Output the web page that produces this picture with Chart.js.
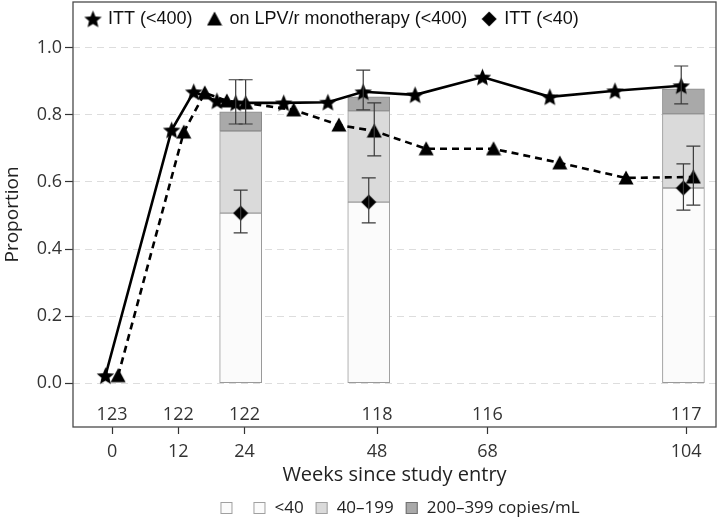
<!DOCTYPE html>
<html>
<head>
<meta charset="utf-8">
<script src="https://cdn.jsdelivr.net/npm/chart.js@4.4.0/dist/chart.umd.min.js"></script>
<style>
  html, body { margin: 0; padding: 0; background: #fff; }
  #wrap { width: 720px; height: 520px; }
</style>
</head>
<body>
<div id="wrap"><canvas id="chart" width="720" height="520"></canvas></div>
<script>
// --- Data ---
// ITT (<400): proportion with VL < 400 copies/mL (stars, solid line)
const ittWeeks = [-1.2, 10.8, 14.8, 19.0, 22.4, 31.1, 39.1, 45.5, 54.9, 67.1, 79.3, 91.1, 103.1];
const ittBelow400 = [0.022, 0.755, 0.869, 0.842, 0.836, 0.836, 0.838, 0.869, 0.860, 0.913, 0.854, 0.872, 0.887];

// on LPV/r monotherapy (<400) (triangles, dashed line)
const lpvWeeks = [1.1, 13.0, 16.8, 20.8, 24.2, 32.9, 41.1, 47.5, 56.9, 69.1, 81.1, 93.1, 105.3];
const lpvBelow400 = [0.022, 0.749, 0.866, 0.842, 0.836, 0.815, 0.770, 0.752, 0.699, 0.699, 0.657, 0.612, 0.615];

// ITT (<40) (diamonds)
const ittLowWeeks = [23.3, 46.5, 103.5];
const ittBelow40 = [0.507, 0.540, 0.582];

// 95% CI bars
const ittCiWeeks = [22.4, 45.5, 103.1];
const ittCiLow = [0.773, 0.815, 0.833];
const ittCiHigh = [0.905, 0.934, 0.946];
const lpvCiWeeks = [24.2, 47.5, 105.3];
const lpvCiLow = [0.773, 0.678, 0.531];
const lpvCiHigh = [0.905, 0.836, 0.707];
const lowCiLow = [0.448, 0.478, 0.516];
const lowCiHigh = [0.576, 0.612, 0.654];

// stacked bars: cumulative tops of each VL band
const barWeeks = [23.3, 46.5, 103.5];
const bandUnder40 = [0.507, 0.540, 0.582];
const bandUnder200 = [0.752, 0.812, 0.803];
const bandUnder400 = [0.809, 0.854, 0.878];

// numbers at risk
const countWeeks = [0, 12, 24, 48, 68, 104];
const counts = [123, 122, 122, 118, 116, 117];

const xTicks = [0, 12, 24, 48, 68, 104];
const yTicks = [0, 0.2, 0.4, 0.6, 0.8, 1.0];

const barLegend = ['', '<40', '40–199', '200–399 copies/mL'];
const barFills = ['#fbfbfb', '#fbfbfb', '#dadada', '#a9a9a9'];

// --- Marker images ---
function makeMarker(kind, size) {
  const c = document.createElement('canvas');
  c.width = size; c.height = size;
  const g = c.getContext('2d');
  const m = size / 2;
  g.fillStyle = '#000';
  g.beginPath();
  if (kind === 'star') {
    for (let i = 0; i < 10; i++) {
      const r = i % 2 === 0 ? m - 0.3 : (m - 0.3) * 0.45;
      const a = -Math.PI / 2 + i * Math.PI / 5;
      g.lineTo(m + r * Math.cos(a), m + 0.8 + r * Math.sin(a));
    }
  } else if (kind === 'triangle') {
    g.moveTo(m, 0.5);
    g.lineTo(size - 0.5, size - 1.5);
    g.lineTo(0.5, size - 1.5);
  } else {
    g.moveTo(m, 0.5);
    g.lineTo(size - 0.5, m);
    g.lineTo(m, size - 0.5);
    g.lineTo(0.5, m);
  }
  g.closePath();
  g.fill();
  return c;
}
const starImg = makeMarker('star', 19);
const triImg = makeMarker('triangle', 16);
const diaImg = makeMarker('diamond', 16);

const toPoints = (xs, ys) => xs.map((x, i) => ({ x: x, y: ys[i] }));
const toFloat = (xs, lo, hi) => xs.map((x, i) => ({ x: x, y: [lo ? lo[i] : 0, hi[i]] }));

// --- Plugins ---
const framePlugin = {
  id: 'frame',
  afterDraw(chart) {
    const { ctx, chartArea: a } = chart;
    ctx.save();
    ctx.strokeStyle = '#4a4a4a';
    ctx.lineWidth = 1.3;
    ctx.strokeRect(a.left, a.top, a.right - a.left, a.bottom - a.top);
    ctx.restore();
  }
};

const errorBarPlugin = {
  id: 'errorBars',
  afterDatasetsDraw(chart) {
    const { ctx, scales: { x, y } } = chart;
    const groups = [
      [ittCiWeeks, ittCiLow, ittCiHigh],
      [lpvCiWeeks, lpvCiLow, lpvCiHigh],
      [ittLowWeeks, lowCiLow, lowCiHigh]
    ];
    ctx.save();
    ctx.strokeStyle = '#3a3a3a';
    ctx.lineWidth = 1.2;
    groups.forEach(([ws, lo, hi]) => {
      ws.forEach((w, i) => {
        const px = x.getPixelForValue(w);
        const p1 = y.getPixelForValue(lo[i]);
        const p2 = y.getPixelForValue(hi[i]);
        ctx.beginPath();
        ctx.moveTo(px, p1); ctx.lineTo(px, p2);
        ctx.moveTo(px - 7, p1); ctx.lineTo(px + 7, p1);
        ctx.moveTo(px - 7, p2); ctx.lineTo(px + 7, p2);
        ctx.stroke();
      });
    });
    ctx.restore();
  }
};

const countsPlugin = {
  id: 'counts',
  afterDraw(chart) {
    const { ctx, chartArea: a, scales: { x } } = chart;
    ctx.save();
    ctx.fillStyle = '#333';
    ctx.font = '18px "Open Sans"';
    ctx.textAlign = 'center';
    ctx.textBaseline = 'middle';
    countWeeks.forEach((w, i) => {
      ctx.fillText(String(counts[i]), x.getPixelForValue(w), a.bottom - 12);
    });
    ctx.restore();
  }
};

// legend inside the plot, top left
const topLegendPlugin = {
  id: 'topLegend',
  afterDraw(chart) {
    const { ctx, chartArea: a } = chart;
    const items = [[starImg, 'ITT (<400)'], [triImg, 'on LPV/r monotherapy (<400)'], [diaImg, 'ITT (<40)']];
    ctx.save();
    ctx.font = '18px "Liberation Sans"';
    ctx.fillStyle = '#111';
    ctx.textBaseline = 'middle';
    let cx = a.left + 20;
    const cy = a.top + 17;
    items.forEach(([img, label]) => {
      ctx.drawImage(img, cx - img.width / 2, cy - img.height / 2);
      ctx.fillText(label, cx + 15, cy);
      cx += 15 + ctx.measureText(label).width + 22;
    });
    ctx.restore();
  }
};

// legend for the stacked bars, below the axis title
const bottomLegendPlugin = {
  id: 'bottomLegend',
  afterDraw(chart) {
    const { ctx } = chart;
    ctx.save();
    ctx.font = '17px "Open Sans"';
    ctx.textBaseline = 'middle';
    const box = 12, gapText = 9, gapItem = 12;
    let total = 0;
    barLegend.forEach(t => { total += box + gapText + ctx.measureText(t).width + gapItem; });
    total -= gapItem;
    let px = 400 - total / 2;
    const cy = 508;
    barLegend.forEach((t, i) => {
      ctx.fillStyle = barFills[i];
      ctx.fillRect(px, cy - box / 2, box, box);
      ctx.strokeStyle = i === 3 ? '#707070' : '#a0a0a0';
      ctx.lineWidth = 1;
      ctx.strokeRect(px + 0.5, cy - box / 2 + 0.5, box - 1, box - 1);
      ctx.fillStyle = '#222';
      ctx.fillText(t, px + box + gapText, cy);
      px += box + gapText + ctx.measureText(t).width + gapItem;
    });
    ctx.restore();
  }
};

// --- Chart ---
const ctx = document.getElementById('chart');

new Chart(ctx, {
  type: 'line',
  data: {
    datasets: [
      {
        type: 'line',
        label: 'ITT (<400)',
        data: toPoints(ittWeeks, ittBelow400),
        borderColor: '#000',
        borderWidth: 2.6,
        pointStyle: starImg,
        pointRadius: 9,
        tension: 0,
        order: 1
      },
      {
        type: 'line',
        label: 'on LPV/r monotherapy (<400)',
        data: toPoints(lpvWeeks, lpvBelow400),
        borderColor: '#000',
        borderWidth: 2.6,
        borderDash: [7, 5],
        pointStyle: triImg,
        pointRadius: 8,
        tension: 0,
        order: 2
      },
      {
        type: 'line',
        label: 'ITT (<40)',
        data: toPoints(ittLowWeeks, ittBelow40),
        showLine: false,
        pointStyle: diaImg,
        pointRadius: 8,
        order: 0
      },
      {
        type: 'bar',
        label: '<40',
        data: toFloat(barWeeks, null, bandUnder40),
        backgroundColor: barFills[1],
        borderColor: '#9a9a9a',
        borderWidth: 1,
        borderSkipped: false,
        barThickness: 42,
        grouped: false,
        order: 5
      },
      {
        type: 'bar',
        label: '40–199',
        data: toFloat(barWeeks, bandUnder40, bandUnder200),
        backgroundColor: barFills[2],
        borderColor: '#9a9a9a',
        borderWidth: 1,
        borderSkipped: false,
        barThickness: 42,
        grouped: false,
        order: 5
      },
      {
        type: 'bar',
        label: '200–399 copies/mL',
        data: toFloat(barWeeks, bandUnder200, bandUnder400),
        backgroundColor: barFills[3],
        borderColor: '#8a8a8a',
        borderWidth: 1,
        borderSkipped: false,
        barThickness: 42,
        grouped: false,
        order: 5
      }
    ]
  },
  options: {
    responsive: false,
    animation: false,
    layout: { autoPadding: false, padding: { top: 2, right: 4, bottom: 30, left: 0 } },
    plugins: {
      legend: { display: false },
      tooltip: { enabled: false }
    },
    scales: {
      x: {
        type: 'linear',
        min: -7.07,
        max: 109.4,
        offset: false,
        afterBuildTicks: (scale) => { scale.ticks = xTicks.map(v => ({ value: v })); },
        afterFit: (scale) => { scale.height = 63; scale.paddingLeft = 0; scale.paddingRight = 0; },
        grid: { offset: false, drawOnChartArea: false, drawTicks: true, tickLength: 7, tickColor: '#333', tickWidth: 1.2 },
        border: { display: false },
        ticks: {
          color: '#333',
          font: { family: 'Open Sans', size: 18 },
          padding: 7,
          maxRotation: 0,
          callback: (v) => String(v)
        },
        title: {
          display: true,
          text: 'Weeks since study entry',
          color: '#222',
          font: { family: 'Open Sans', size: 20 },
          padding: { top: 2, bottom: 3 }
        }
      },
      y: {
        min: -0.131,
        max: 1.137,
        afterBuildTicks: (scale) => { scale.ticks = yTicks.map(v => ({ value: v })); },
        afterFit: (scale) => { scale.width = 73; scale.paddingTop = 0; scale.paddingBottom = 0; },
        grid: {
          color: '#dddddd',
          lineWidth: 1,
          drawTicks: true,
          tickLength: 8,
          tickColor: '#333',
          tickWidth: 1.2,
          tickBorderDash: []
        },
        border: { display: false, dash: [7, 5] },
        ticks: {
          color: '#333',
          font: { family: 'Open Sans', size: 18 },
          padding: 3,
          callback: (v) => v.toFixed(1)
        },
        title: {
          display: true,
          text: 'Proportion',
          color: '#222',
          font: { family: 'Open Sans', size: 19 },
          padding: { top: 1, bottom: 2 }
        }
      }
    }
  },
  plugins: [errorBarPlugin, countsPlugin, topLegendPlugin, bottomLegendPlugin, framePlugin]
});
</script>
</body>
</html>
